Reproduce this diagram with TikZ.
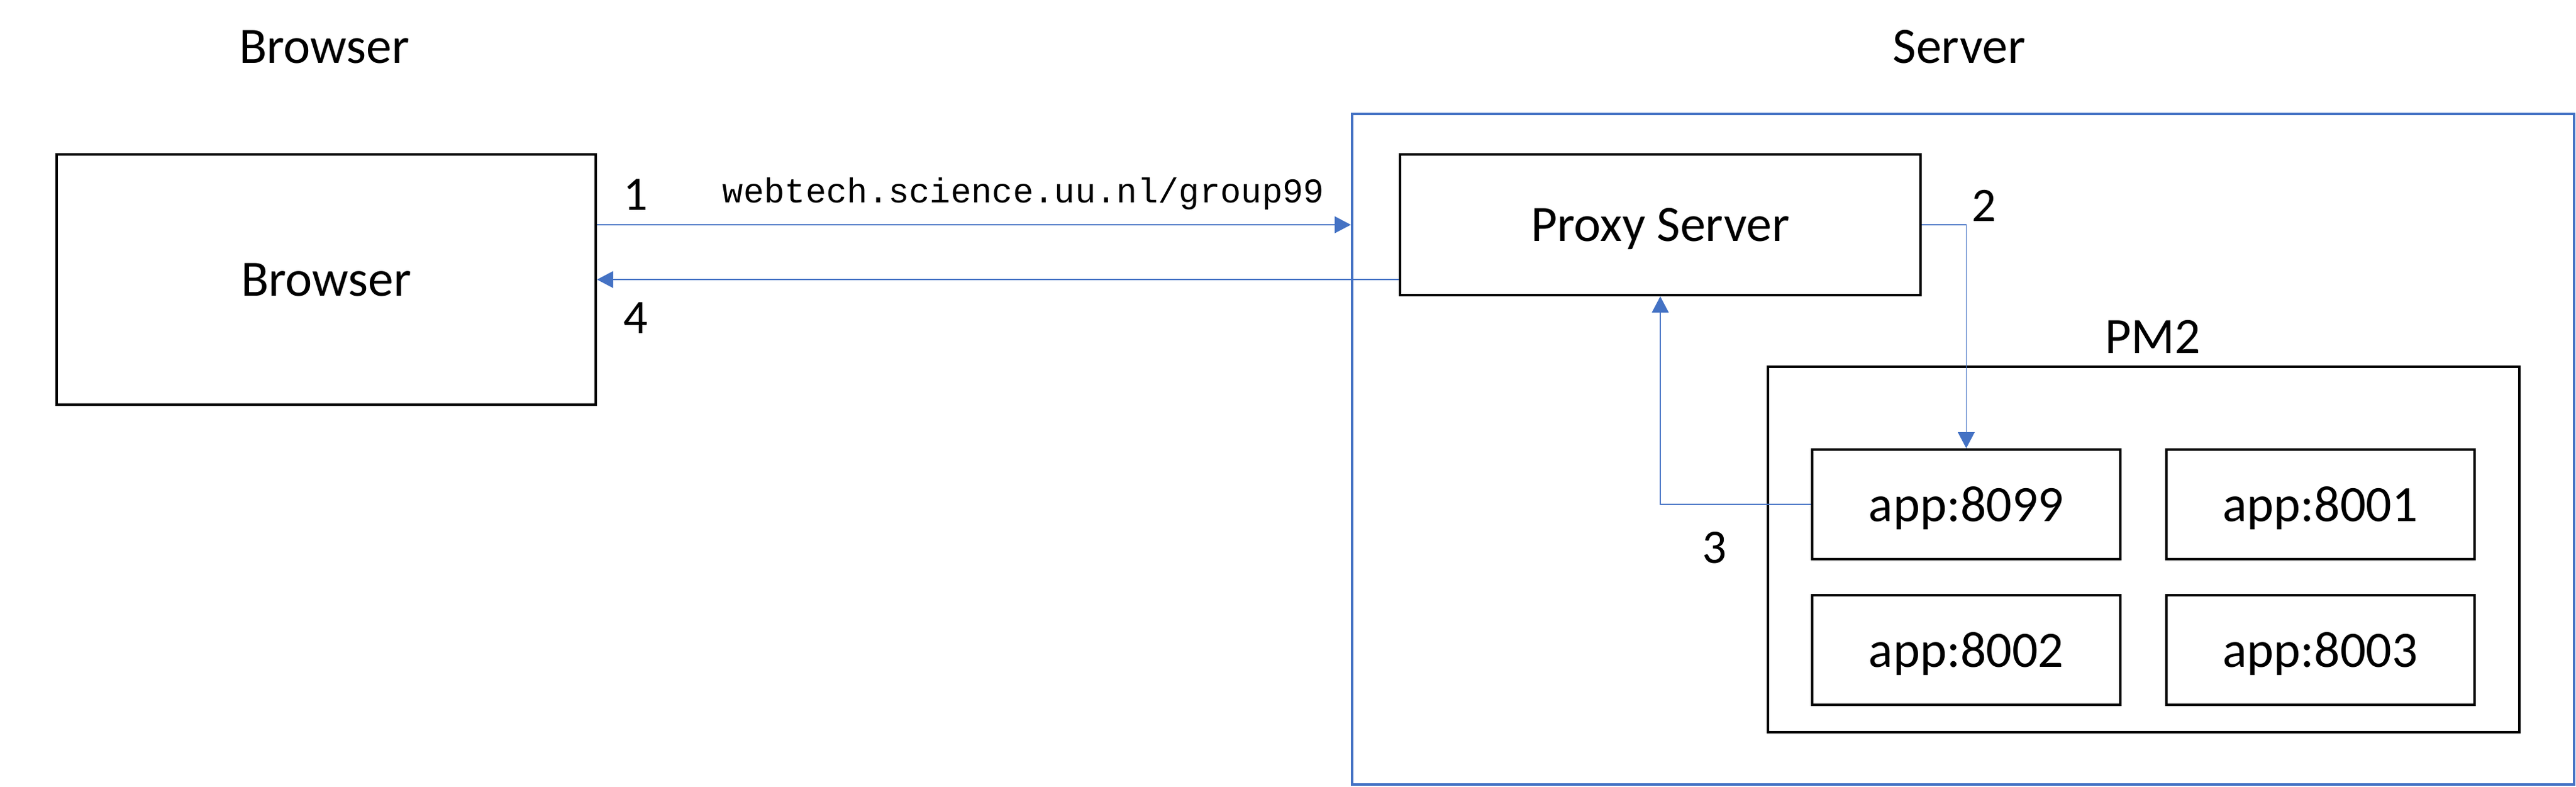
\documentclass[tikz,border=0pt]{standalone}
\usepackage{fontspec}
\setmainfont{Carlito}
\newfontfamily\urlfont{Liberation Mono}
\usetikzlibrary{arrows.meta}
\definecolor{linkblue}{HTML}{4472C4}
\tikzset{
  box/.style={draw, line width=1.15pt, inner sep=0pt, text depth=0pt, font=\fontsize{23.3}{28}\selectfont},
  link/.style={draw=linkblue, line width=0.4pt, -{Triangle[length=0.26cm,width=0.27cm]}},
  lbl/.style={font=\fontsize{22}{26}\selectfont},
  title/.style={font=\fontsize{23.3}{28}\selectfont},
}

\begin{document}
\begin{tikzpicture}
\useasboundingbox (0,0) rectangle (41.38,-12.63);

% titles
\node[title, anchor=base] (browsertitle) at (5.21,-1.01) {Browser};
\node[title, anchor=base] (servertitle) at (31.47,-1.01) {Server};

% boxes
\node[box, minimum width=8.66cm, minimum height=4.02cm] (browser) at (5.24,-4.49) {Browser};
\node[box, draw=linkblue, minimum width=19.63cm, minimum height=10.77cm] (server) at (31.535,-7.215) {};
\node[box, minimum width=8.36cm, minimum height=2.26cm] (proxy) at (26.67,-3.61) {Proxy Server};
\node[box, minimum width=12.07cm, minimum height=5.87cm] (pm2) at (34.435,-8.825) {};
\node[title] (pm2title) at (34.58,-5.41) {PM2};

\node[box, minimum width=4.95cm, minimum height=1.76cm] (app8099) at (31.585,-8.10) {app:8099};
\node[box, minimum width=4.95cm, minimum height=1.76cm] (app8001) at (37.27,-8.10) {app:8001};
\node[box, minimum width=4.95cm, minimum height=1.76cm] (app8002) at (31.585,-10.435) {app:8002};
\node[box, minimum width=4.95cm, minimum height=1.76cm] (app8003) at (37.27,-10.435) {app:8003};

% connectors
\draw[link] (browser.east |- proxy.east) -- (server.west |- proxy.east);
\draw[link] (proxy.west |- browser.east) -- (browser.east);
\draw[link] (proxy.east) -| (app8099.north);
\draw[link] (app8099.west) -| (proxy.south);

% labels
\node[anchor=base, font=\urlfont\fontsize{15.8}{18}\selectfont] (url) at (16.44,-3.25) {webtech.science.uu.nl/group99};
\node[lbl] (step1) at (10.21,-3.13) {1};
\node[lbl] (step2) at (31.87,-3.30) {2};
\node[lbl] (step3) at (27.54,-8.80) {3};
\node[lbl] (step4) at (10.21,-5.11) {4};

\end{tikzpicture}
\end{document}
